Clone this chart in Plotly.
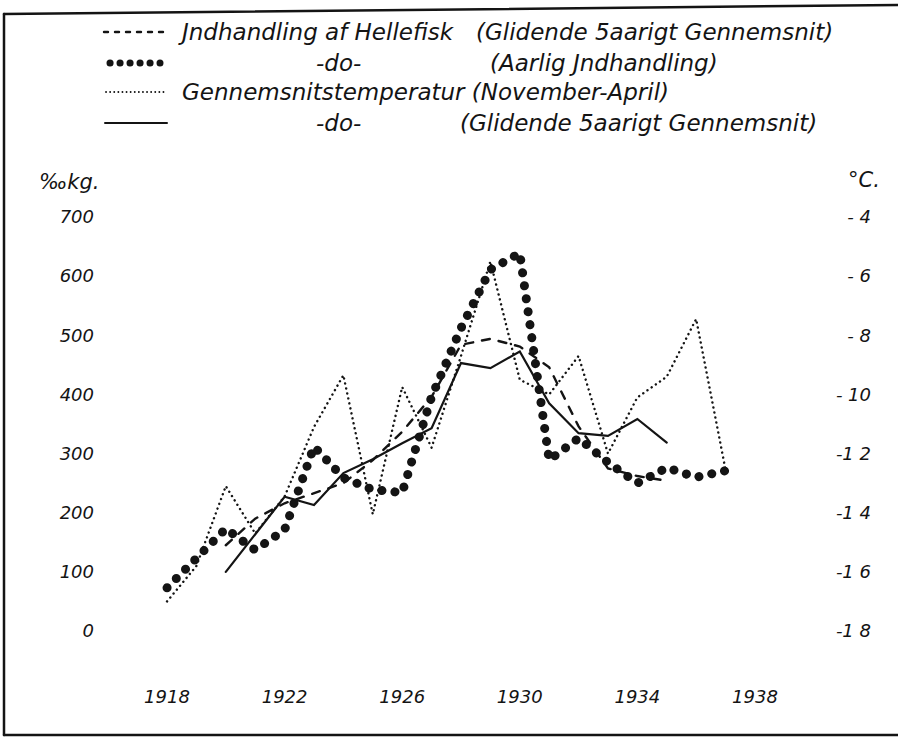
import plotly.graph_objects as go

# Aar
years = list(range(1918, 1938))
years_mean = list(range(1920, 1936))

# Jndhandling af Hellefisk, aarlig (o/oo kg)
landings_annual = [73, 123, 173, 137, 171, 312, 259, 239, 234, 396,
                   512, 611, 639, 289, 326, 285, 250, 276, 260, 271]
# -do- glidende 5aarigt gennemsnit
landings_mean = [145, 190, 216, 233, 250, 289, 337, 396, 484, 494,
                 481, 446, 346, 275, 262, 254]

# Gennemsnitstemperatur November-April (grader C)
temp_annual = [-17.0, -15.8, -13.1, -14.7, -13.45, -11.1, -9.35, -14.05, -9.75, -11.8,
               -8.7, -5.5, -9.5, -10.0, -8.7, -12.0, -10.1, -9.4, -7.45, -12.55]
# -do- glidende 5aarigt gennemsnit
temp_mean = [-16.0, -14.73, -13.46, -13.74, -12.66, -12.19, -11.65, -11.14, -8.94, -9.11,
             -8.55, -10.3, -11.31, -11.4, -10.83, -11.63]

year_ticks = [1918, 1922, 1926, 1930, 1934, 1938]
kg_ticks = [0, 100, 200, 300, 400, 500, 600, 700]
temp_ticks = [-18, -16, -14, -12, -10, -8, -6, -4]
temp_labels = ["-1 8", "-1 6", "-1 4", "-1 2", "- 10", "- 8", "- 6", "- 4"]

INK = "#141414"
FONT = "DejaVu Sans"

# plot area in pixels (for placing legend/frame decorations)
W, H = 898, 738
L, R, T, B = 95, 24, 150, 54
PW, PH = W - L - R, H - T - B


def px(x):
    return (x - L) / PW


def py(y):
    return (H - B - y) / PH


fig = go.Figure()

fig.add_trace(go.Scatter(
    x=years_mean, y=landings_mean, mode="lines",
    line=dict(color=INK, width=2.4, dash="8px,9px"),
))
fig.add_trace(go.Scatter(
    x=years, y=landings_annual, mode="lines",
    line=dict(color=INK, width=9, dash="0.1px,13px"),
))
fig.add_trace(go.Scatter(
    x=years, y=temp_annual, mode="lines", yaxis="y2",
    line=dict(color=INK, width=2.4, dash="0.1px,5px"),
))
fig.add_trace(go.Scatter(
    x=years_mean, y=temp_mean, mode="lines", yaxis="y2",
    line=dict(color=INK, width=2.2),
))

tick_font = dict(family=FONT, size=18, color=INK, style="italic")
legend_font = dict(family=FONT, size=23, color=INK, style="italic")

fig.update_layout(
    width=W, height=H,
    margin=dict(l=L, r=R, t=T, b=B),
    paper_bgcolor="white", plot_bgcolor="white",
    showlegend=False,
    xaxis=dict(range=[1915.55, 1942.05], tickvals=year_ticks, ticks="",
               showgrid=False, zeroline=False, showline=False,
               tickfont=tick_font),
    yaxis=dict(range=[-89.6, 813.3], tickvals=kg_ticks, ticks="",
               showgrid=False, zeroline=False, showline=False,
               tickfont=tick_font),
    yaxis2=dict(range=[-19.792, -1.734], overlaying="y", side="right",
                tickvals=temp_ticks, ticktext=temp_labels, ticks="",
                ticklabelposition="inside",
                showgrid=False, zeroline=False, showline=False,
                tickfont=tick_font),
)

# enhedsbetegnelser
fig.add_annotation(x=px(69), y=py(182), xref="paper", yref="paper", text="‰kg.",
                   xanchor="center", yanchor="middle", showarrow=False,
                   font=dict(family=FONT, size=21, color=INK, style="italic"))
fig.add_annotation(x=px(864), y=py(180), xref="paper", yref="paper", text="°C.",
                   xanchor="center", yanchor="middle", showarrow=False,
                   font=dict(family=FONT, size=21, color=INK, style="italic"))

# forklaring
legend_texts = [
    (176, 32, "left", "Jndhandling af Hellefisk"),
    (474, 32, "left", "(Glidende 5aarigt Gennemsnit)"),
    (338, 63, "center", "-do-"),
    (488, 63, "left", "(Aarlig Jndhandling)"),
    (180, 92, "left", "Gennemsnitstemperatur (November-April)"),
    (338, 123, "center", "-do-"),
    (458, 123, "left", "(Glidende 5aarigt Gennemsnit)"),
]
for x, y, anchor, txt in legend_texts:
    fig.add_annotation(x=px(x), y=py(y), xref="paper", yref="paper", text=txt,
                       xanchor=anchor, yanchor="middle", showarrow=False,
                       font=legend_font)

samples = [
    (32, 104, 166, dict(color=INK, width=2.4, dash="4px,7px")),
    (63, 110, 160, dict(color=INK, width=7, dash="0.1px,9.9px")),
    (92, 106, 166, dict(color=INK, width=1.8, dash="0.1px,4px")),
    (123, 105, 167, dict(color=INK, width=2)),
]
for y, xa, xb, ln in samples:
    fig.add_shape(type="line", xref="paper", yref="paper",
                  x0=px(xa), x1=px(xb), y0=py(y), y1=py(y), line=ln)

# ramme
frame = dict(color=INK, width=2.5)
fig.add_shape(type="line", xref="paper", yref="paper",
              x0=px(4), x1=px(898), y0=py(14), y1=py(5), line=frame)
fig.add_shape(type="line", xref="paper", yref="paper",
              x0=px(4), x1=px(4), y0=py(14), y1=py(735), line=frame)
fig.add_shape(type="line", xref="paper", yref="paper",
              x0=px(4), x1=px(898), y0=py(735), y1=py(735), line=frame)

# runde prikker, ingen sidemargin
post = """
document.body.style.margin = '0';
document.querySelectorAll('path.js-line, .shapelayer path').forEach(function(p){
    p.style.strokeLinecap = 'round';
});
"""

fig.write_html("out.html", post_script=post, config={"displayModeBar": False})
